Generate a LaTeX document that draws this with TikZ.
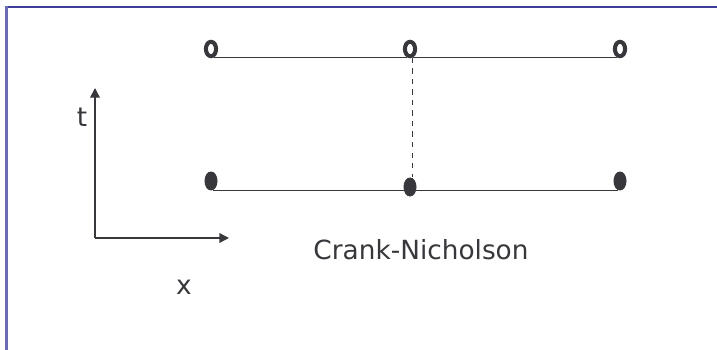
\documentclass[tikz,border=0pt]{standalone}
\usepackage{fontspec}
\setmainfont{DejaVu Sans}
\usetikzlibrary{arrows.meta,shapes.geometric}
\definecolor{ink}{RGB}{55,55,60}
\definecolor{framedark}{RGB}{62,62,150}
\definecolor{framelight}{RGB}{108,108,182}
\tikzstyle{open point}=[
	ellipse,
	draw=ink,
	line width=2.3pt,
	inner sep=0pt,
	minimum width=5.8pt,
	minimum height=8.2pt
]
\tikzstyle{full point}=[
	ellipse,
	fill=ink,
	inner sep=0pt,
	minimum width=7.4pt,
	minimum height=10.8pt
]
\tikzstyle{grid line}=[
	draw=ink,
	line width=0.8pt
]
\tikzstyle{axis}=[
	-{Triangle[length=5.5pt,width=5.5pt]},
	draw=ink,
	line width=0.8pt
]
\tikzstyle{caption}=[
	text=ink,
	font=\fontsize{15}{17}\selectfont,
	inner sep=0pt
]

\begin{document}
\begin{tikzpicture}[x=0.02cm,y=-0.02cm]
\useasboundingbox (0,0) rectangle (717,350);
% frame
\draw [framedark, line width=1.2pt] (5,7) -- (717,7);
\draw [framelight, line width=1.7pt] (6.5,6.4) -- (6.5,350);
% new time level
\node [open point] (New1) at (211,49) {};
\node [open point] (New2) at (410,49) {};
\node [open point] (New3) at (620,49) {};
% old time level
\node [full point] (Old1) at (211,181) {};
\node [full point] (Old2) at (410,187) {};
\node [full point] (Old3) at (620,181) {};
\draw [grid line] (New1.-70) -- (New2.-110);
\draw [grid line] (New2.-70) -- (New3.-110);
\draw [grid line] (Old1.-80) -- (Old3.-100);
\draw [grid line, dashed, line width=0.6pt] (New2.-75) -- (New2.-75 |- Old2.north);
% axes
\coordinate (Origin) at (95,238);
\coordinate (TimeEnd) at (95,88);
\coordinate (SpaceEnd) at (229,238);
\draw [axis] (Origin) -- (TimeEnd);
\draw [axis] (Origin) -- (SpaceEnd);
\node [caption] (TimeLabel) at (82,117) {t};
\node [caption] (SpaceLabel) at (184,287) {x};
\node [caption] (Scheme) at (421,250) {Crank-Nicholson};
\end{tikzpicture}
\end{document}
